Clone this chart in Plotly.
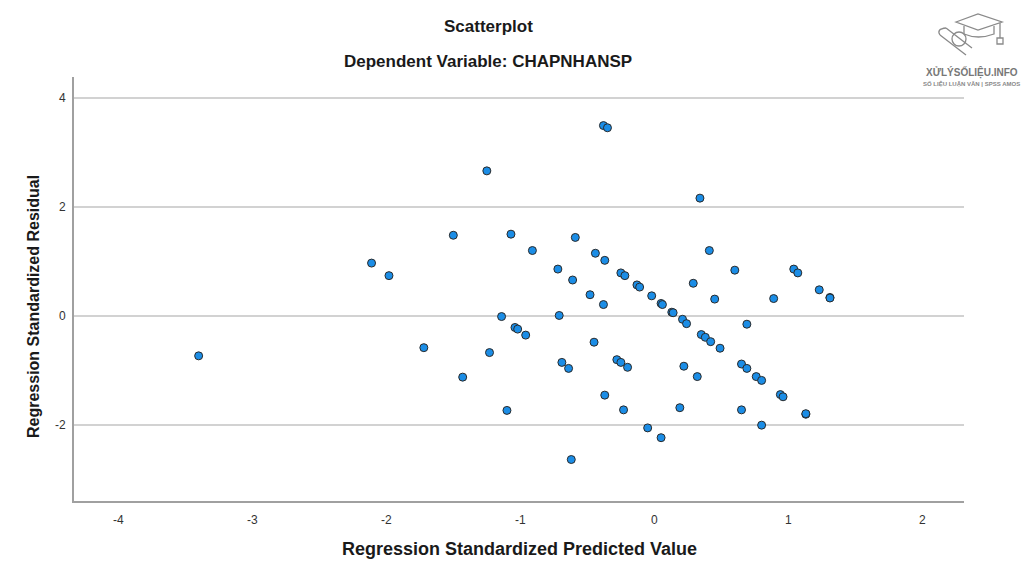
import plotly.graph_objects as go

# Regression Standardized Predicted Value (x) and Residual (y)
pred = [-3.40, -2.11, -1.98, -1.72, -1.43, -1.50, -1.25, -1.23, -1.14, -1.10,
        -1.07, -1.04, -1.02, -0.96, -0.91, -0.72, -0.71, -0.69, -0.64, -0.61,
        -0.59, -0.62, -0.48, -0.44, -0.45, -0.37, -0.38, -0.37, -0.38, -0.35,
        -0.28, -0.25, -0.25, -0.22, -0.23, -0.20, -0.13, -0.11, -0.05, -0.02,
        0.05, 0.06, 0.05, 0.13, 0.14, 0.21, 0.24, 0.19, 0.22, 0.29,
        0.32, 0.34, 0.35, 0.38, 0.42, 0.41, 0.45, 0.49, 0.60, 0.65,
        0.69, 0.65, 0.69, 0.76, 0.80, 0.80, 0.89, 0.94, 0.96, 1.04,
        1.07, 1.13, 1.13, 1.23, 1.31, 1.31]
resid = [-0.73, 0.97, 0.74, -0.58, -1.12, 1.48, 2.66, -0.67, -0.01, -1.73,
         1.50, -0.21, -0.24, -0.35, 1.20, 0.86, 0.01, -0.85, -0.96, 0.66,
         1.44, -2.63, 0.39, 1.15, -0.48, 1.02, 0.21, -1.45, 3.49, 3.45,
         -0.80, -0.85, 0.79, 0.74, -1.72, -0.94, 0.57, 0.53, -2.05, 0.37,
         0.23, 0.21, -2.23, 0.07, 0.06, -0.06, -0.14, -1.68, -0.92, 0.60,
         -1.11, 2.16, -0.34, -0.39, -0.47, 1.20, 0.31, -0.59, 0.84, -0.88,
         -0.96, -1.72, -0.15, -1.11, -1.18, -2.00, 0.32, -1.44, -1.48, 0.86,
         0.79, -1.80, -1.79, 0.48, 0.34, 0.33]

x_ticks = [-4, -3, -2, -1, 0, 1, 2]
x_tick_labels = ["-4", "-3", "-2", "-1", "0", "1", "2"]
y_ticks = [-2, 0, 2, 4]
y_tick_labels = ["-2", "0", "2", "4"]

FONT = "Liberation Sans, Arial, sans-serif"
W, H = 1024, 576
l, r, t, b = 74, 60, 77, 75
pw, ph = W - l - r, H - t - b

def px(xp):
    return (xp - l) / pw

def py(yp):
    return (H - b - yp) / ph

fig = go.Figure()
fig.add_trace(go.Scatter(
    x=pred, y=resid, mode="markers",
    marker=dict(size=8, color="#1b8de6", line=dict(color="#2a2a2a", width=1)),
    showlegend=False, hoverinfo="x+y",
))

fig.update_layout(
    width=W, height=H,
    margin=dict(l=l, r=r, t=t, b=b, autoexpand=False),
    paper_bgcolor="white", plot_bgcolor="white",
    font=dict(family=FONT, color="#222222"),
    xaxis=dict(range=[-4.33, 2.31], tickvals=x_ticks, ticktext=x_tick_labels,
               showgrid=False, zeroline=False, showline=True, linecolor="#a0a0a0",
               linewidth=2, ticks="", tickfont=dict(size=12, color="#333333"),
               ticklabelstandoff=7),
    yaxis=dict(range=[-3.39, 4.38], tickvals=y_ticks, ticktext=y_tick_labels,
               showgrid=True, gridcolor="#d2d2d2", gridwidth=2, zeroline=False,
               showline=True, linecolor="#a0a0a0", linewidth=2, ticks="",
               tickfont=dict(size=12, color="#333333"), ticklabelstandoff=4),
)

texts = [
    ("<b>Scatterplot</b>", 488, 27, 17, "#1a1a1a", 0),
    ("<b>Dependent Variable: CHAPNHANSP</b>", 488, 62, 17, "#1a1a1a", 0),
    ("<b>Regression Standardized Predicted Value</b>", 519, 549, 18, "#1a1a1a", 0),
    ("<b>Regression Standardized Residual</b>", 33, 307, 16, "#1a1a1a", -90),
    ("<b>XỬLÝSỐLIỆU.INFO</b>", 972, 72, 10, "#777777", 0),
    ("<b>SỐ LIỆU LUẬN VĂN | SPSS AMOS</b>", 972, 84, 6, "#888888", 0),
]
for txt, xp, yp, sz, col, ang in texts:
    fig.add_annotation(text=txt, x=px(xp), y=py(yp), xref="paper", yref="paper",
                       showarrow=False, textangle=ang,
                       font=dict(size=sz, color=col, family=FONT),
                       xanchor="center", yanchor="middle")

# simple line-art logo (graduation cap + diploma seal)
def P(xp, yp):
    return f"{px(xp):.5f},{py(yp):.5f}"

logo_col = "#8a8a8a"
paths = [
    f"M {P(956,22)} L {P(978,14)} L {P(1002,22)} L {P(978,30)} Z",
    f"M {P(964,26)} L {P(964,34)} Q {P(978,40)} {P(994,34)} L {P(994,26)}",
    f"M {P(1000,23)} L {P(1000,38)}",
    f"M {P(946,28)} L {P(972,48)} M {P(940,35)} L {P(966,55)}",
    f"M {P(946,28)} Q {P(936,29)} {P(940,35)}",
]
for p in paths:
    fig.add_shape(type="path", path=p, xref="paper", yref="paper",
                  line=dict(color=logo_col, width=1.3))
fig.add_shape(type="circle", xref="paper", yref="paper",
              x0=px(952), x1=px(966), y0=py(46), y1=py(32),
              line=dict(color=logo_col, width=1.3))
fig.add_shape(type="rect", xref="paper", yref="paper",
              x0=px(997), x1=px(1003), y0=py(44), y1=py(38),
              line=dict(color=logo_col, width=1.3))

fig.write_html(
    "out.html",
    config={"displayModeBar": False},
    post_script="document.body.style.margin='0';document.body.style.overflow='hidden';",
)
